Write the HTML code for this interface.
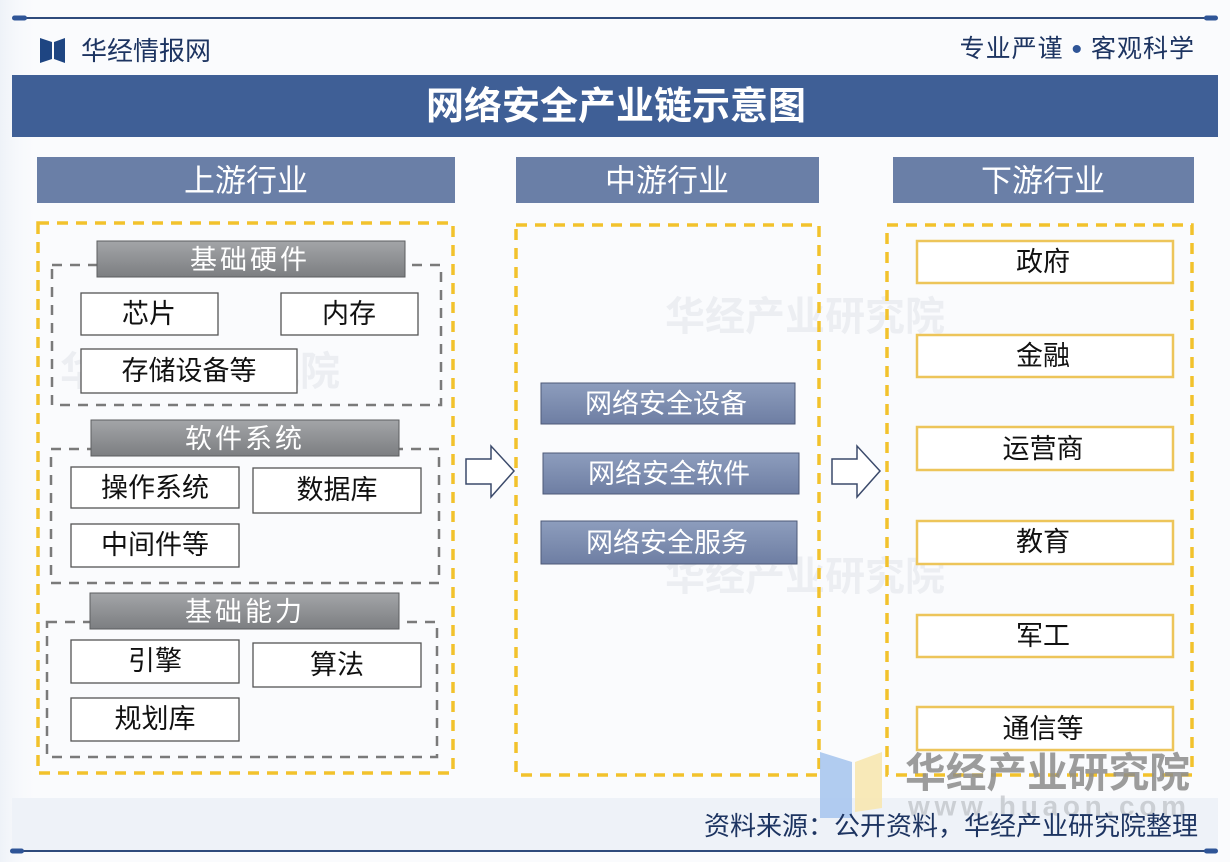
<!DOCTYPE html>
<html><head><meta charset="utf-8"><style>
html,body{margin:0;padding:0;background:#fafbfd;}
svg{display:block;}
text{font-family:"Liberation Sans","Noto Sans CJK SC",sans-serif;}
</style></head><body>
<svg width="1230" height="862" viewBox="0 0 1230 862" xmlns="http://www.w3.org/2000/svg">
<defs>
<linearGradient id="gbar" x1="0" y1="0" x2="0" y2="1"><stop offset="0" stop-color="#a3a5a8"/><stop offset="1" stop-color="#7c7e81"/></linearGradient>
<linearGradient id="mbar" x1="0" y1="0" x2="0" y2="1"><stop offset="0" stop-color="#8d9dbd"/><stop offset="1" stop-color="#6e7ea3"/></linearGradient>
<linearGradient id="bgl" x1="0" y1="0" x2="1" y2="0"><stop offset="0" stop-color="#eef2f8"/><stop offset="1" stop-color="#fafbfd" stop-opacity="0"/></linearGradient>
</defs>
<rect width="1230" height="862" fill="#fafbfd"/>
<rect x="0" y="0" width="40" height="862" fill="url(#bgl)"/>

<!-- faint watermarks -->
<g fill="#d9dde4" opacity="0.4" font-size="40" font-weight="700">
<text x="665" y="330">华经产业研究院</text>
<text x="665" y="590">华经产业研究院</text>
<text x="60" y="385">华经产业研究院</text>
</g>

<!-- top line -->
<line x1="14" y1="18" x2="1216" y2="18" stroke="#2f4b7c" stroke-width="2"/>
<rect x="12" y="15.5" width="15" height="5" rx="2.5" fill="#2f5597"/>
<rect x="1204" y="15.5" width="14" height="5" rx="2.5" fill="#2f5597"/>

<!-- logo -->
<polygon points="40,38 52,42 52,59 40,63" fill="#1e4582"/>
<polygon points="54,42 65,38 65,63 54,59" fill="#1e4582"/>
<text x="81" y="51" font-size="26" fill="#1d3461" dominant-baseline="central">华经情报网</text>
<text x="1195" y="49" font-size="25" fill="#1d3461" text-anchor="end" dominant-baseline="central" letter-spacing="1">专业严谨 <tspan fill="#2f5597" font-size="30">•</tspan> 客观科学</text>

<!-- title bar -->
<rect x="12" y="75" width="1206" height="62" fill="#3f5f96"/>
<text x="616" y="107" font-size="38" font-weight="700" fill="#ffffff" text-anchor="middle" dominant-baseline="central">网络安全产业链示意图</text>

<!-- column headers -->
<rect x="37" y="157" width="418" height="46" fill="#6a7fa7"/>
<text x="246" y="181" font-size="31" fill="#fff" text-anchor="middle" dominant-baseline="central">上游行业</text>
<rect x="516" y="157" width="303" height="46" fill="#6a7fa7"/>
<text x="667" y="181" font-size="31" fill="#fff" text-anchor="middle" dominant-baseline="central">中游行业</text>
<rect x="893" y="157" width="301" height="46" fill="#6a7fa7"/>
<text x="1043" y="181" font-size="31" fill="#fff" text-anchor="middle" dominant-baseline="central">下游行业</text>

<!-- yellow dashed containers -->
<g fill="none" stroke="#f2c22c" stroke-width="3.5" stroke-dasharray="11 8">
<rect x="38" y="223" width="415" height="550"/>
<rect x="516" y="225" width="303" height="550"/>
<rect x="887" y="225" width="305" height="550"/>
</g>

<!-- gray dashed groups -->
<g fill="none" stroke="#7a7a7a" stroke-width="2.5" stroke-dasharray="10 8">
<rect x="52" y="265" width="389" height="140"/>
<rect x="51" y="449" width="388" height="134"/>
<rect x="47" y="622" width="390" height="135"/>
</g>

<!-- group label bars -->
<g stroke="#5c5e60" stroke-width="1">
<rect x="97" y="241" width="308" height="36" fill="url(#gbar)"/>
<rect x="91" y="420" width="308" height="36" fill="url(#gbar)"/>
<rect x="90" y="593" width="309" height="36" fill="url(#gbar)"/>
</g>
<g font-size="27" fill="#fff" text-anchor="middle" dominant-baseline="central" letter-spacing="3">
<text x="250" y="260">基础硬件</text>
<text x="245" y="439">软件系统</text>
<text x="245" y="612">基础能力</text>
</g>

<!-- left items -->
<g fill="#fff" stroke="#555" stroke-width="1.3">
<rect x="81" y="293" width="137" height="42"/>
<rect x="281" y="293" width="137" height="42"/>
<rect x="81" y="349" width="216" height="44"/>
<rect x="71" y="467" width="168" height="41"/>
<rect x="253" y="468" width="168" height="45"/>
<rect x="71" y="524" width="168" height="43"/>
<rect x="71" y="640" width="168" height="43"/>
<rect x="253" y="643" width="168" height="44"/>
<rect x="71" y="698" width="168" height="43"/>
</g>
<g font-size="27" fill="#111" text-anchor="middle" dominant-baseline="central">
<text x="149" y="314">芯片</text>
<text x="349" y="314">内存</text>
<text x="189" y="371">存储设备等</text>
<text x="155" y="488">操作系统</text>
<text x="337" y="490">数据库</text>
<text x="155" y="545">中间件等</text>
<text x="155" y="661">引擎</text>
<text x="337" y="665">算法</text>
<text x="155" y="719">规划库</text>
</g>

<!-- arrows -->
<g fill="#fff" stroke="#3b4a6b" stroke-width="1.5" stroke-linejoin="miter">
<polygon points="466,459 491,459 491,446 514,471 491,497 491,484 466,484"/>
<polygon points="832,459 857,459 857,446 880,471 857,497 857,484 832,484"/>
</g>

<!-- middle items -->
<g fill="url(#mbar)" stroke="#4d5a78" stroke-width="1">
<rect x="541" y="383" width="254" height="41"/>
<rect x="543" y="453" width="256" height="41"/>
<rect x="541" y="521" width="256" height="43"/>
</g>
<g font-size="27" fill="#fff" text-anchor="middle" dominant-baseline="central">
<text x="666" y="404">网络安全设备</text>
<text x="669" y="474">网络安全软件</text>
<text x="667" y="543">网络安全服务</text>
</g>

<!-- right items -->
<g fill="#fff" stroke="#edc55a" stroke-width="2.5">
<rect x="917" y="241" width="256" height="42"/>
<rect x="917" y="335" width="256" height="42"/>
<rect x="917" y="427" width="256" height="43"/>
<rect x="917" y="521" width="256" height="43"/>
<rect x="917" y="615" width="256" height="42"/>
<rect x="917" y="707" width="256" height="43"/>
</g>
<g font-size="27" fill="#111" text-anchor="middle" dominant-baseline="central">
<text x="1043" y="262">政府</text>
<text x="1043" y="356">金融</text>
<text x="1043" y="449">运营商</text>
<text x="1043" y="542">教育</text>
<text x="1043" y="636">军工</text>
<text x="1043" y="729">通信等</text>
</g>

<!-- footer band -->
<rect x="12" y="798" width="1206" height="52" fill="#eef2f8"/>

<!-- bottom-right watermark -->
<polygon points="820,752 852,762 852,818 820,818" fill="#a9c6ee" opacity="0.9"/>
<polygon points="855,762 882,752 882,808 855,812" fill="#f7e7b0" opacity="0.9"/>
<text x="905" y="773" font-size="41" font-weight="700" fill="#8c8c8c" opacity="0.85" dominant-baseline="central" textLength="285" lengthAdjust="spacingAndGlyphs">华经产业研究院</text>
<text x="908" y="806" font-size="28" font-weight="700" fill="#b5b8bd" opacity="0.6" dominant-baseline="central" textLength="278" lengthAdjust="spacing">www.huaon.com</text>

<text x="1198" y="826" font-size="26" fill="#1d3461" text-anchor="end" dominant-baseline="central">资料来源：公开资料，华经产业研究院整理</text>

<!-- bottom line -->
<line x1="14" y1="851" x2="1216" y2="851" stroke="#2f4b7c" stroke-width="2"/>
<rect x="10" y="848.5" width="14" height="5" rx="2.5" fill="#2f5597"/>
<rect x="1204" y="848.5" width="14" height="5" rx="2.5" fill="#2f5597"/>
</svg>
</body></html>
